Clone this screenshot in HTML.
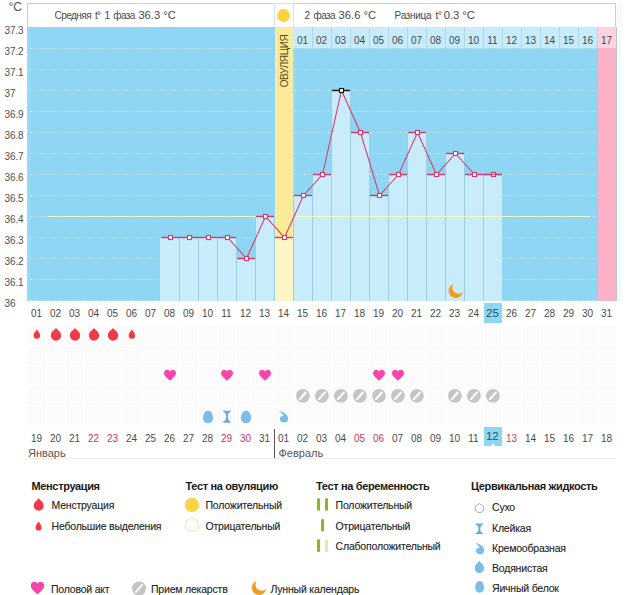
<!DOCTYPE html>
<html><head><meta charset="utf-8"><style>
html,body{margin:0;padding:0;background:#fff;}
body{width:626px;height:595px;position:relative;overflow:hidden;font-family:"Liberation Sans",sans-serif;}
.t{position:absolute;white-space:nowrap;line-height:1;}
</style></head><body>
<svg width="626" height="595" viewBox="0 0 626 595" style="position:absolute;left:0;top:0">
<rect x="27" y="325" width="589" height="101" fill="#fbfbfb"/>
<rect x="27" y="325" width="1" height="101" fill="#ffffff"/>
<rect x="46" y="325" width="1" height="101" fill="#ffffff"/>
<rect x="65" y="325" width="1" height="101" fill="#ffffff"/>
<rect x="84" y="325" width="1" height="101" fill="#ffffff"/>
<rect x="103" y="325" width="1" height="101" fill="#ffffff"/>
<rect x="122" y="325" width="1" height="101" fill="#ffffff"/>
<rect x="141" y="325" width="1" height="101" fill="#ffffff"/>
<rect x="160" y="325" width="1" height="101" fill="#ffffff"/>
<rect x="179" y="325" width="1" height="101" fill="#ffffff"/>
<rect x="198" y="325" width="1" height="101" fill="#ffffff"/>
<rect x="217" y="325" width="1" height="101" fill="#ffffff"/>
<rect x="236" y="325" width="1" height="101" fill="#ffffff"/>
<rect x="255" y="325" width="1" height="101" fill="#ffffff"/>
<rect x="274" y="325" width="1" height="101" fill="#ffffff"/>
<rect x="293" y="325" width="1" height="101" fill="#ffffff"/>
<rect x="312" y="325" width="1" height="101" fill="#ffffff"/>
<rect x="331" y="325" width="1" height="101" fill="#ffffff"/>
<rect x="350" y="325" width="1" height="101" fill="#ffffff"/>
<rect x="369" y="325" width="1" height="101" fill="#ffffff"/>
<rect x="388" y="325" width="1" height="101" fill="#ffffff"/>
<rect x="407" y="325" width="1" height="101" fill="#ffffff"/>
<rect x="426" y="325" width="1" height="101" fill="#ffffff"/>
<rect x="445" y="325" width="1" height="101" fill="#ffffff"/>
<rect x="464" y="325" width="1" height="101" fill="#ffffff"/>
<rect x="483" y="325" width="1" height="101" fill="#ffffff"/>
<rect x="502" y="325" width="1" height="101" fill="#ffffff"/>
<rect x="521" y="325" width="1" height="101" fill="#ffffff"/>
<rect x="540" y="325" width="1" height="101" fill="#ffffff"/>
<rect x="559" y="325" width="1" height="101" fill="#ffffff"/>
<rect x="578" y="325" width="1" height="101" fill="#ffffff"/>
<rect x="597" y="325" width="1" height="101" fill="#ffffff"/>
<rect x="616" y="325" width="1" height="101" fill="#ffffff"/>
<rect x="27" y="325" width="589" height="1" fill="#ffffff"/>
<rect x="27" y="345" width="589" height="1" fill="#ffffff"/>
<rect x="27" y="365" width="589" height="1" fill="#ffffff"/>
<rect x="27" y="385" width="589" height="1" fill="#ffffff"/>
<rect x="27" y="405" width="589" height="1" fill="#ffffff"/>
<rect x="27" y="425" width="589" height="1" fill="#ffffff"/>
<rect x="27.5" y="3.5" width="588" height="24" fill="#fff" stroke="#aad9e8" stroke-width="1"/>
<rect x="274.5" y="3.5" width="19" height="24" fill="none" stroke="#cfe6ee" stroke-width="1"/>
<circle cx="283.5" cy="15.5" r="6.5" fill="#fdd23f"/>
<rect x="27" y="27" width="571" height="274" fill="#8ed6f3"/>
<rect x="598" y="27" width="18" height="274" fill="#fbb2c8"/>
<rect x="27" y="27" width="1" height="274" fill="#a6d3e4"/>
<rect x="28" y="27" width="2" height="274" fill="#98dbf5"/>
<rect x="616" y="27" width="1" height="274" fill="#bcc6cf"/>
<rect x="617" y="3" width="5" height="298" fill="#f3fbfd"/>
<rect x="275" y="27" width="18" height="274" fill="#fbea98"/>
<rect x="275" y="27" width="1" height="274" fill="#f4efb8"/>
<rect x="292" y="27" width="1" height="274" fill="#f4efb0"/>
<rect x="293" y="48" width="2" height="253" fill="#98dbf5"/>
<rect x="293" y="27" width="19" height="21" fill="#c8ecfb"/>
<rect x="312" y="27" width="19" height="21" fill="#c8ecfb"/>
<rect x="331" y="27" width="19" height="21" fill="#c8ecfb"/>
<rect x="350" y="27" width="19" height="21" fill="#c8ecfb"/>
<rect x="369" y="27" width="19" height="21" fill="#c8ecfb"/>
<rect x="388" y="27" width="19" height="21" fill="#c8ecfb"/>
<rect x="407" y="27" width="19" height="21" fill="#c8ecfb"/>
<rect x="426" y="27" width="19" height="21" fill="#c8ecfb"/>
<rect x="445" y="27" width="19" height="21" fill="#c8ecfb"/>
<rect x="464" y="27" width="19" height="21" fill="#c8ecfb"/>
<rect x="483" y="27" width="19" height="21" fill="#c8ecfb"/>
<rect x="502" y="27" width="19" height="21" fill="#c8ecfb"/>
<rect x="521" y="27" width="19" height="21" fill="#c8ecfb"/>
<rect x="540" y="27" width="19" height="21" fill="#c8ecfb"/>
<rect x="559" y="27" width="19" height="21" fill="#c8ecfb"/>
<rect x="578" y="27" width="19" height="21" fill="#c8ecfb"/>
<rect x="597" y="27" width="19" height="21" fill="#fcd3df"/>
<rect x="312" y="27" width="1" height="21" fill="#b0d8e8"/>
<rect x="331" y="27" width="1" height="21" fill="#b0d8e8"/>
<rect x="350" y="27" width="1" height="21" fill="#b0d8e8"/>
<rect x="369" y="27" width="1" height="21" fill="#b0d8e8"/>
<rect x="388" y="27" width="1" height="21" fill="#b0d8e8"/>
<rect x="407" y="27" width="1" height="21" fill="#b0d8e8"/>
<rect x="426" y="27" width="1" height="21" fill="#b0d8e8"/>
<rect x="445" y="27" width="1" height="21" fill="#b0d8e8"/>
<rect x="464" y="27" width="1" height="21" fill="#b0d8e8"/>
<rect x="483" y="27" width="1" height="21" fill="#b0d8e8"/>
<rect x="502" y="27" width="1" height="21" fill="#b0d8e8"/>
<rect x="521" y="27" width="1" height="21" fill="#b0d8e8"/>
<rect x="540" y="27" width="1" height="21" fill="#b0d8e8"/>
<rect x="559" y="27" width="1" height="21" fill="#b0d8e8"/>
<rect x="578" y="27" width="1" height="21" fill="#b0d8e8"/>
<rect x="597" y="27" width="1" height="21" fill="#b0d8e8"/>
<line x1="31" y1="48.5" x2="274" y2="48.5" stroke="#ffffff" stroke-width="1" stroke-dasharray="1 2" opacity="0.75"/>
<line x1="295" y1="48.5" x2="597" y2="48.5" stroke="#ffffff" stroke-width="1" stroke-dasharray="1 2" opacity="0.75"/>
<line x1="31" y1="69.5" x2="274" y2="69.5" stroke="#ffffff" stroke-width="1" stroke-dasharray="1 2" opacity="0.75"/>
<line x1="295" y1="69.5" x2="597" y2="69.5" stroke="#ffffff" stroke-width="1" stroke-dasharray="1 2" opacity="0.75"/>
<line x1="31" y1="90.5" x2="274" y2="90.5" stroke="#ffffff" stroke-width="1" stroke-dasharray="1 2" opacity="0.75"/>
<line x1="295" y1="90.5" x2="597" y2="90.5" stroke="#ffffff" stroke-width="1" stroke-dasharray="1 2" opacity="0.75"/>
<line x1="31" y1="111.5" x2="274" y2="111.5" stroke="#ffffff" stroke-width="1" stroke-dasharray="1 2" opacity="0.75"/>
<line x1="295" y1="111.5" x2="597" y2="111.5" stroke="#ffffff" stroke-width="1" stroke-dasharray="1 2" opacity="0.75"/>
<line x1="31" y1="132.5" x2="274" y2="132.5" stroke="#ffffff" stroke-width="1" stroke-dasharray="1 2" opacity="0.75"/>
<line x1="295" y1="132.5" x2="597" y2="132.5" stroke="#ffffff" stroke-width="1" stroke-dasharray="1 2" opacity="0.75"/>
<line x1="31" y1="153.5" x2="274" y2="153.5" stroke="#ffffff" stroke-width="1" stroke-dasharray="1 2" opacity="0.75"/>
<line x1="295" y1="153.5" x2="597" y2="153.5" stroke="#ffffff" stroke-width="1" stroke-dasharray="1 2" opacity="0.75"/>
<line x1="31" y1="174.5" x2="274" y2="174.5" stroke="#ffffff" stroke-width="1" stroke-dasharray="1 2" opacity="0.75"/>
<line x1="295" y1="174.5" x2="597" y2="174.5" stroke="#ffffff" stroke-width="1" stroke-dasharray="1 2" opacity="0.75"/>
<line x1="31" y1="195.5" x2="274" y2="195.5" stroke="#ffffff" stroke-width="1" stroke-dasharray="1 2" opacity="0.75"/>
<line x1="295" y1="195.5" x2="597" y2="195.5" stroke="#ffffff" stroke-width="1" stroke-dasharray="1 2" opacity="0.75"/>
<line x1="31" y1="216.5" x2="274" y2="216.5" stroke="#ffffff" stroke-width="1" stroke-dasharray="1 2" opacity="0.75"/>
<line x1="295" y1="216.5" x2="597" y2="216.5" stroke="#ffffff" stroke-width="1" stroke-dasharray="1 2" opacity="0.75"/>
<line x1="31" y1="237.5" x2="274" y2="237.5" stroke="#ffffff" stroke-width="1" stroke-dasharray="1 2" opacity="0.75"/>
<line x1="295" y1="237.5" x2="597" y2="237.5" stroke="#ffffff" stroke-width="1" stroke-dasharray="1 2" opacity="0.75"/>
<line x1="31" y1="258.5" x2="274" y2="258.5" stroke="#ffffff" stroke-width="1" stroke-dasharray="1 2" opacity="0.75"/>
<line x1="295" y1="258.5" x2="597" y2="258.5" stroke="#ffffff" stroke-width="1" stroke-dasharray="1 2" opacity="0.75"/>
<line x1="31" y1="279.5" x2="274" y2="279.5" stroke="#ffffff" stroke-width="1" stroke-dasharray="1 2" opacity="0.75"/>
<line x1="295" y1="279.5" x2="597" y2="279.5" stroke="#ffffff" stroke-width="1" stroke-dasharray="1 2" opacity="0.75"/>
<line x1="31" y1="300.5" x2="274" y2="300.5" stroke="#ffffff" stroke-width="1" stroke-dasharray="1 2" opacity="0.75"/>
<line x1="295" y1="300.5" x2="597" y2="300.5" stroke="#ffffff" stroke-width="1" stroke-dasharray="1 2" opacity="0.75"/>
<rect x="160" y="237" width="19" height="64" fill="#c9ecfb"/>
<rect x="179" y="237" width="19" height="64" fill="#c9ecfb"/>
<rect x="198" y="237" width="19" height="64" fill="#c9ecfb"/>
<rect x="217" y="237" width="19" height="64" fill="#c9ecfb"/>
<rect x="236" y="258" width="19" height="43" fill="#c9ecfb"/>
<rect x="255" y="216" width="19" height="85" fill="#c9ecfb"/>
<rect x="275" y="237" width="18" height="64" fill="#fff6c8"/>
<rect x="293" y="195" width="19" height="106" fill="#c9ecfb"/>
<rect x="312" y="174" width="19" height="127" fill="#c9ecfb"/>
<rect x="331" y="90" width="19" height="211" fill="#c9ecfb"/>
<rect x="350" y="132" width="19" height="169" fill="#c9ecfb"/>
<rect x="369" y="195" width="19" height="106" fill="#c9ecfb"/>
<rect x="388" y="174" width="19" height="127" fill="#c9ecfb"/>
<rect x="407" y="132" width="19" height="169" fill="#c9ecfb"/>
<rect x="426" y="174" width="19" height="127" fill="#c9ecfb"/>
<rect x="445" y="153" width="19" height="148" fill="#c9ecfb"/>
<rect x="464" y="174" width="19" height="127" fill="#c9ecfb"/>
<rect x="483" y="174" width="19" height="127" fill="#c9ecfb"/>
<rect x="179" y="237" width="1" height="64" fill="#9dcde3"/>
<rect x="198" y="237" width="1" height="64" fill="#9dcde3"/>
<rect x="217" y="237" width="1" height="64" fill="#9dcde3"/>
<rect x="236" y="237" width="1" height="64" fill="#9dcde3"/>
<rect x="255" y="216" width="1" height="85" fill="#9dcde3"/>
<rect x="274" y="216" width="1" height="85" fill="#9dcde3"/>
<rect x="293" y="195" width="1" height="106" fill="#9dcde3"/>
<rect x="312" y="174" width="1" height="127" fill="#9dcde3"/>
<rect x="331" y="90" width="1" height="211" fill="#9dcde3"/>
<rect x="350" y="90" width="1" height="211" fill="#9dcde3"/>
<rect x="369" y="132" width="1" height="169" fill="#9dcde3"/>
<rect x="388" y="174" width="1" height="127" fill="#9dcde3"/>
<rect x="407" y="132" width="1" height="169" fill="#9dcde3"/>
<rect x="426" y="132" width="1" height="169" fill="#9dcde3"/>
<rect x="445" y="153" width="1" height="148" fill="#9dcde3"/>
<rect x="464" y="153" width="1" height="148" fill="#9dcde3"/>
<rect x="483" y="174" width="1" height="127" fill="#9dcde3"/>
<rect x="48" y="216" width="226" height="1" fill="#fffbb0" opacity="0.8"/>
<rect x="293" y="216" width="296" height="1" fill="#fffbb0" opacity="0.8"/>
<rect x="161" y="236.8" width="18" height="1.4" fill="#d43b6c"/>
<rect x="180" y="236.8" width="18" height="1.4" fill="#d43b6c"/>
<rect x="199" y="236.8" width="18" height="1.4" fill="#d43b6c"/>
<rect x="218" y="236.8" width="18" height="1.4" fill="#d43b6c"/>
<rect x="237" y="257.8" width="18" height="1.4" fill="#d43b6c"/>
<rect x="256" y="215.8" width="18" height="1.4" fill="#d43b6c"/>
<rect x="275" y="236.8" width="18" height="1.4" fill="#d43b6c"/>
<rect x="294" y="194.8" width="18" height="1.4" fill="#d43b6c"/>
<rect x="313" y="173.8" width="18" height="1.4" fill="#d43b6c"/>
<rect x="332" y="89.8" width="18" height="1.4" fill="#111"/>
<rect x="351" y="131.8" width="18" height="1.4" fill="#d43b6c"/>
<rect x="370" y="194.8" width="18" height="1.4" fill="#d43b6c"/>
<rect x="389" y="173.8" width="18" height="1.4" fill="#d43b6c"/>
<rect x="408" y="131.8" width="18" height="1.4" fill="#d43b6c"/>
<rect x="427" y="173.8" width="18" height="1.4" fill="#d43b6c"/>
<rect x="446" y="152.8" width="18" height="1.4" fill="#d43b6c"/>
<rect x="465" y="173.8" width="18" height="1.4" fill="#d43b6c"/>
<rect x="484" y="173.8" width="18" height="1.4" fill="#d43b6c"/>
<polyline points="170.5,237.5 189.5,237.5 208.5,237.5 227.5,237.5 246.5,258.5 265.5,216.5 284.5,237.5 303.5,195.5 322.5,174.5 341.5,90.5 360.5,132.5 379.5,195.5 398.5,174.5 417.5,132.5 436.5,174.5 455.5,153.5 474.5,174.5 493.5,174.5" fill="none" stroke="#d43b6c" stroke-width="1.05"/>
<rect x="168.5" y="235.5" width="4" height="4" fill="#fff" stroke="#d43b6c" stroke-width="1.1"/>
<rect x="187.5" y="235.5" width="4" height="4" fill="#fff" stroke="#d43b6c" stroke-width="1.1"/>
<rect x="206.5" y="235.5" width="4" height="4" fill="#fff" stroke="#d43b6c" stroke-width="1.1"/>
<rect x="225.5" y="235.5" width="4" height="4" fill="#fff" stroke="#d43b6c" stroke-width="1.1"/>
<rect x="244.5" y="256.5" width="4" height="4" fill="#fff" stroke="#d43b6c" stroke-width="1.1"/>
<rect x="263.5" y="214.5" width="4" height="4" fill="#fff" stroke="#d43b6c" stroke-width="1.1"/>
<rect x="282.5" y="235.5" width="4" height="4" fill="#fff" stroke="#d43b6c" stroke-width="1.1"/>
<rect x="301.5" y="193.5" width="4" height="4" fill="#fff" stroke="#d43b6c" stroke-width="1.1"/>
<rect x="320.5" y="172.5" width="4" height="4" fill="#fff" stroke="#d43b6c" stroke-width="1.1"/>
<rect x="339.5" y="88.5" width="4" height="4" fill="#fff" stroke="#111" stroke-width="1.1"/>
<rect x="358.5" y="130.5" width="4" height="4" fill="#fff" stroke="#d43b6c" stroke-width="1.1"/>
<rect x="377.5" y="193.5" width="4" height="4" fill="#fff" stroke="#d43b6c" stroke-width="1.1"/>
<rect x="396.5" y="172.5" width="4" height="4" fill="#fff" stroke="#d43b6c" stroke-width="1.1"/>
<rect x="415.5" y="130.5" width="4" height="4" fill="#fff" stroke="#d43b6c" stroke-width="1.1"/>
<rect x="434.5" y="172.5" width="4" height="4" fill="#fff" stroke="#d43b6c" stroke-width="1.1"/>
<rect x="453.5" y="151.5" width="4" height="4" fill="#fff" stroke="#d43b6c" stroke-width="1.1"/>
<rect x="472.5" y="172.5" width="4" height="4" fill="#fff" stroke="#d43b6c" stroke-width="1.1"/>
<rect x="491.5" y="172.5" width="4" height="4" fill="#fff" stroke="#d43b6c" stroke-width="1.1"/>
<rect x="484" y="173.8" width="18" height="1.4" fill="#d43b6c" opacity="0.8"/>
<path d="M36.9,329.15 C37.7125,331.284 40.15,332.51250000000005 40.15,335.6 A3.25,3.25 0 0 1 33.65,335.6 C33.65,332.51250000000005 36.0875,331.284 36.9,329.15Z" fill="#f03a48"/>
<path d="M56,327.7 C57.275,330.56 61.1,330.75499999999994 61.1,335.59999999999997 A5.1,5.1 0 0 1 50.9,335.59999999999997 C50.9,330.75499999999994 54.725,330.56 56,327.7Z" fill="#f03a48"/>
<path d="M75,327.7 C76.275,330.56 80.1,330.75499999999994 80.1,335.59999999999997 A5.1,5.1 0 0 1 69.9,335.59999999999997 C69.9,330.75499999999994 73.725,330.56 75,327.7Z" fill="#f03a48"/>
<path d="M94,327.7 C95.275,330.56 99.1,330.75499999999994 99.1,335.59999999999997 A5.1,5.1 0 0 1 88.9,335.59999999999997 C88.9,330.75499999999994 92.725,330.56 94,327.7Z" fill="#f03a48"/>
<path d="M113,327.7 C114.275,330.56 118.1,330.75499999999994 118.1,335.59999999999997 A5.1,5.1 0 0 1 107.9,335.59999999999997 C107.9,330.75499999999994 111.725,330.56 113,327.7Z" fill="#f03a48"/>
<path d="M131.9,329.15 C132.7125,331.284 135.15,332.51250000000005 135.15,335.6 A3.25,3.25 0 0 1 128.65,335.6 C128.65,332.51250000000005 131.0875,331.284 131.9,329.15Z" fill="#f03a48"/>
<path transform="translate(164.0,369.7) scale(1.0)" d="M6,11 C4,9.2 0,6.6 0,3.4 C0,1.3 1.5,0 3.2,0 C4.5,0 5.5,0.8 6,1.8 C6.5,0.8 7.5,0 8.8,0 C10.5,0 12,1.3 12,3.4 C12,6.6 8,9.2 6,11 Z" fill="#f845ab"/>
<path transform="translate(221.0,369.7) scale(1.0)" d="M6,11 C4,9.2 0,6.6 0,3.4 C0,1.3 1.5,0 3.2,0 C4.5,0 5.5,0.8 6,1.8 C6.5,0.8 7.5,0 8.8,0 C10.5,0 12,1.3 12,3.4 C12,6.6 8,9.2 6,11 Z" fill="#f845ab"/>
<path transform="translate(259.0,369.7) scale(1.0)" d="M6,11 C4,9.2 0,6.6 0,3.4 C0,1.3 1.5,0 3.2,0 C4.5,0 5.5,0.8 6,1.8 C6.5,0.8 7.5,0 8.8,0 C10.5,0 12,1.3 12,3.4 C12,6.6 8,9.2 6,11 Z" fill="#f845ab"/>
<path transform="translate(373.0,369.7) scale(1.0)" d="M6,11 C4,9.2 0,6.6 0,3.4 C0,1.3 1.5,0 3.2,0 C4.5,0 5.5,0.8 6,1.8 C6.5,0.8 7.5,0 8.8,0 C10.5,0 12,1.3 12,3.4 C12,6.6 8,9.2 6,11 Z" fill="#f845ab"/>
<path transform="translate(392.0,369.7) scale(1.0)" d="M6,11 C4,9.2 0,6.6 0,3.4 C0,1.3 1.5,0 3.2,0 C4.5,0 5.5,0.8 6,1.8 C6.5,0.8 7.5,0 8.8,0 C10.5,0 12,1.3 12,3.4 C12,6.6 8,9.2 6,11 Z" fill="#f845ab"/>
<circle cx="302.9" cy="395.8" r="6.9" fill="#c5c5c5"/><line x1="300.00199999999995" y1="399.112" x2="305.798" y2="392.488" stroke="#fff" stroke-width="2.1" stroke-linecap="round"/>
<circle cx="321.9" cy="395.8" r="6.9" fill="#c5c5c5"/><line x1="319.00199999999995" y1="399.112" x2="324.798" y2="392.488" stroke="#fff" stroke-width="2.1" stroke-linecap="round"/>
<circle cx="340.9" cy="395.8" r="6.9" fill="#c5c5c5"/><line x1="338.00199999999995" y1="399.112" x2="343.798" y2="392.488" stroke="#fff" stroke-width="2.1" stroke-linecap="round"/>
<circle cx="359.9" cy="395.8" r="6.9" fill="#c5c5c5"/><line x1="357.00199999999995" y1="399.112" x2="362.798" y2="392.488" stroke="#fff" stroke-width="2.1" stroke-linecap="round"/>
<circle cx="378.9" cy="395.8" r="6.9" fill="#c5c5c5"/><line x1="376.00199999999995" y1="399.112" x2="381.798" y2="392.488" stroke="#fff" stroke-width="2.1" stroke-linecap="round"/>
<circle cx="397.9" cy="395.8" r="6.9" fill="#c5c5c5"/><line x1="395.00199999999995" y1="399.112" x2="400.798" y2="392.488" stroke="#fff" stroke-width="2.1" stroke-linecap="round"/>
<circle cx="416.9" cy="395.8" r="6.9" fill="#c5c5c5"/><line x1="414.00199999999995" y1="399.112" x2="419.798" y2="392.488" stroke="#fff" stroke-width="2.1" stroke-linecap="round"/>
<circle cx="454.9" cy="395.8" r="6.9" fill="#c5c5c5"/><line x1="452.00199999999995" y1="399.112" x2="457.798" y2="392.488" stroke="#fff" stroke-width="2.1" stroke-linecap="round"/>
<circle cx="473.9" cy="395.8" r="6.9" fill="#c5c5c5"/><line x1="471.00199999999995" y1="399.112" x2="476.798" y2="392.488" stroke="#fff" stroke-width="2.1" stroke-linecap="round"/>
<circle cx="492.9" cy="395.8" r="6.9" fill="#c5c5c5"/><line x1="490.00199999999995" y1="399.112" x2="495.798" y2="392.488" stroke="#fff" stroke-width="2.1" stroke-linecap="round"/>
<path d="M208,410.85 C211.2,410.85 213.0,414.294 213.0,417.984 C213.0,421.182 210.8,423.15 208,423.15 C205.2,423.15 203.0,421.182 203.0,417.984 C203.0,414.294 204.8,410.85 208,410.85 Z" fill="#79bde8"/>
<path d="M223.15,410.85 H230.85 V411.75 C229.25,412.15000000000003 227.8,414.40000000000003 227.8,416.8 C227.8,419.2 229.25,421.45 230.85,421.85 V422.75 H223.15 V421.85 C224.75,421.45 226.2,419.2 226.2,416.8 C226.2,414.40000000000003 224.75,412.15000000000003 223.15,411.75 Z" fill="#6eaad9"/>
<path d="M246,410.85 C249.2,410.85 251.0,414.294 251.0,417.984 C251.0,421.182 248.8,423.15 246,423.15 C243.2,423.15 241.0,421.182 241.0,417.984 C241.0,414.294 242.8,410.85 246,410.85 Z" fill="#79bde8"/>
<path d="M279.20,411.00 C282.60,411.60 288.10,414.60 288.10,418.40 A4.10,4.10 0 0 1 279.90,418.40 C279.90,416.80 281.70,415.70 283.50,415.90 C282.40,414.10 280.40,411.90 279.20,411.00 Z" fill="#79bde8"/>
<path d="M462.91,291.94 A7.2,7.2 0 1 1 453.44,284.00 A6.2,6.2 0 0 0 462.91,291.94 Z" fill="#f59a1a"/>
<rect x="274" y="429" width="1" height="30" fill="#555"/>
<rect x="27" y="458" width="589" height="1" fill="#ececec"/>
<path d="M38.7,498.0 C39.925000000000004,500.816 43.6,501.245 43.6,505.9 A4.9,4.9 0 0 1 33.800000000000004,505.9 C33.800000000000004,501.245 37.475,500.816 38.7,498.0Z" fill="#f03a48"/>
<path d="M38.6,521.45 C39.375,523.452 41.7,524.5049999999999 41.7,527.4499999999999 A3.1,3.1 0 0 1 35.5,527.4499999999999 C35.5,524.5049999999999 37.825,523.452 38.6,521.45Z" fill="#f03a48"/>
<circle cx="192" cy="505" r="7.2" fill="#fcd344"/>
<circle cx="192" cy="525" r="6.7" fill="#fff" stroke="#f3ebc4" stroke-width="1.3"/>
<rect x="317" y="498.3" width="3.1" height="12.4" rx="1.2" fill="#8ab62a"/>
<rect x="325" y="498.3" width="3.1" height="12.4" rx="1.2" fill="#8ab62a"/>
<rect x="321" y="519" width="3.1" height="12.4" rx="1.2" fill="#8ab62a"/>
<rect x="317" y="539.3" width="3.1" height="12.6" rx="1.2" fill="#8ab62a"/>
<rect x="325" y="539.3" width="3.1" height="12.6" rx="1.2" fill="#dfe8bd"/>
<path d="M479.5,503.4 C480.575,505.424 483.8,504.21500000000003 483.8,508.3 A4.3,4.3 0 0 1 475.2,508.3 C475.2,504.21500000000003 478.425,505.424 479.5,503.4Z" fill="#fff" stroke="#8aa6ba" stroke-width="0.9"/>
<path d="M475.5,523.5 H483.29999999999995 V524.4 C481.69999999999993,524.8 480.2,526.4 480.2,528.8 C480.2,531.1999999999999 481.69999999999993,532.8 483.29999999999995,533.1999999999999 V534.0999999999999 H475.5 V533.1999999999999 C477.1,532.8 478.59999999999997,531.1999999999999 478.59999999999997,528.8 C478.59999999999997,526.4 477.1,524.8 475.5,524.4 Z" fill="#6eaad9"/>
<path d="M475.30,542.80 C478.70,543.40 484.20,546.40 484.20,550.20 A4.10,4.10 0 0 1 476.00,550.20 C476.00,548.60 477.80,547.50 479.60,547.70 C478.50,545.90 476.50,543.70 475.30,542.80 Z" fill="#79bde8"/>
<path d="M479.4,560.55 C480.575,563.3439999999999 484.09999999999997,564.0849999999999 484.09999999999997,568.55 A4.7,4.7 0 0 1 474.7,568.55 C474.7,564.0849999999999 478.22499999999997,563.3439999999999 479.4,560.55Z" fill="#79bde8"/>
<path d="M479.6,581.0 C482.416,581.0 484.0,584.304 484.0,587.8439999999999 C484.0,590.912 482.064,592.8 479.6,592.8 C477.136,592.8 475.20000000000005,590.912 475.20000000000005,587.8439999999999 C475.20000000000005,584.304 476.78400000000005,581.0 479.6,581.0 Z" fill="#79bde8"/>
<path transform="translate(30.75,581.8125) scale(1.125)" d="M6,11 C4,9.2 0,6.6 0,3.4 C0,1.3 1.5,0 3.2,0 C4.5,0 5.5,0.8 6,1.8 C6.5,0.8 7.5,0 8.8,0 C10.5,0 12,1.3 12,3.4 C12,6.6 8,9.2 6,11 Z" fill="#f845ab"/>
<circle cx="139" cy="588.5" r="7" fill="#c4c4c4"/><line x1="136.06" y1="591.86" x2="141.94" y2="585.14" stroke="#fff" stroke-width="2.1" stroke-linecap="round"/>
<path d="M266.11,588.94 A7.2,7.2 0 1 1 256.64,581.00 A6.2,6.2 0 0 0 266.11,588.94 Z" fill="#f59a1a"/>
</svg>
<div style="position:absolute;left:484px;top:427px;width:18px;height:19px;background:#8fd6f3"></div><svg style="position:absolute;left:0;top:0" width="626" height="595"><path d="M491,446 L493,443 L495,446 Z" fill="#fff"/></svg><div style="position:absolute;left:484px;top:303px;width:18px;height:20px;background:#8fd6f3"></div><div class="t" style="left:4.5px;top:26px;font-size:10px;color:#505050;font-weight:normal;letter-spacing:-0.1px">37.3</div><div class="t" style="left:4.5px;top:47px;font-size:10px;color:#505050;font-weight:normal;letter-spacing:-0.1px">37.2</div><div class="t" style="left:4.5px;top:68px;font-size:10px;color:#505050;font-weight:normal;letter-spacing:-0.1px">37.1</div><div class="t" style="left:4.5px;top:89px;font-size:10px;color:#505050;font-weight:normal;letter-spacing:-0.1px">37</div><div class="t" style="left:4.5px;top:110px;font-size:10px;color:#505050;font-weight:normal;letter-spacing:-0.1px">36.9</div><div class="t" style="left:4.5px;top:131px;font-size:10px;color:#505050;font-weight:normal;letter-spacing:-0.1px">36.8</div><div class="t" style="left:4.5px;top:152px;font-size:10px;color:#505050;font-weight:normal;letter-spacing:-0.1px">36.7</div><div class="t" style="left:4.5px;top:173px;font-size:10px;color:#505050;font-weight:normal;letter-spacing:-0.1px">36.6</div><div class="t" style="left:4.5px;top:194px;font-size:10px;color:#505050;font-weight:normal;letter-spacing:-0.1px">36.5</div><div class="t" style="left:4.5px;top:215px;font-size:10px;color:#505050;font-weight:normal;letter-spacing:-0.1px">36.4</div><div class="t" style="left:4.5px;top:236px;font-size:10px;color:#505050;font-weight:normal;letter-spacing:-0.1px">36.3</div><div class="t" style="left:4.5px;top:257px;font-size:10px;color:#505050;font-weight:normal;letter-spacing:-0.1px">36.2</div><div class="t" style="left:4.5px;top:278px;font-size:10px;color:#505050;font-weight:normal;letter-spacing:-0.1px">36.1</div><div class="t" style="left:4.5px;top:299px;font-size:10px;color:#505050;font-weight:normal;letter-spacing:-0.1px">36</div><div class="t" style="left:8.5px;top:1px;font-size:12px;color:#505050;font-weight:normal;">°C</div><div class="t" style="left:54.6px;top:11px;font-size:10px;color:#4a4a4a;letter-spacing:-0.55px;word-spacing:1.6px">Средняя t° 1 фаза</div><div class="t" style="left:138.4px;top:10.2px;font-size:11.2px;color:#4a4a4a;letter-spacing:0px">36.3 °C</div><div class="t" style="left:304.6px;top:11px;font-size:10px;color:#4a4a4a;letter-spacing:-0.6px;word-spacing:1.8px">2 фаза</div><div class="t" style="left:338.6px;top:10.2px;font-size:11.2px;color:#4a4a4a;letter-spacing:0px">36.6 °C</div><div class="t" style="left:394.6px;top:11px;font-size:10px;color:#4a4a4a;letter-spacing:-0.3px;word-spacing:1.8px">Разница t°</div><div class="t" style="left:443.7px;top:10.2px;font-size:11.2px;color:#4a4a4a;letter-spacing:0px">0.3 °C</div><div class="t" style="left:287.5px;width:30px;text-align:center;top:35.5px;font-size:10px;color:#3d4a52;">01</div><div class="t" style="left:306.5px;width:30px;text-align:center;top:35.5px;font-size:10px;color:#3d4a52;">02</div><div class="t" style="left:325.5px;width:30px;text-align:center;top:35.5px;font-size:10px;color:#3d4a52;">03</div><div class="t" style="left:344.5px;width:30px;text-align:center;top:35.5px;font-size:10px;color:#3d4a52;">04</div><div class="t" style="left:363.5px;width:30px;text-align:center;top:35.5px;font-size:10px;color:#3d4a52;">05</div><div class="t" style="left:382.5px;width:30px;text-align:center;top:35.5px;font-size:10px;color:#3d4a52;">06</div><div class="t" style="left:401.5px;width:30px;text-align:center;top:35.5px;font-size:10px;color:#3d4a52;">07</div><div class="t" style="left:420.5px;width:30px;text-align:center;top:35.5px;font-size:10px;color:#3d4a52;">08</div><div class="t" style="left:439.5px;width:30px;text-align:center;top:35.5px;font-size:10px;color:#3d4a52;">09</div><div class="t" style="left:458.5px;width:30px;text-align:center;top:35.5px;font-size:10px;color:#3d4a52;">10</div><div class="t" style="left:477.5px;width:30px;text-align:center;top:35.5px;font-size:10px;color:#3d4a52;">11</div><div class="t" style="left:496.5px;width:30px;text-align:center;top:35.5px;font-size:10px;color:#3d4a52;">12</div><div class="t" style="left:515.5px;width:30px;text-align:center;top:35.5px;font-size:10px;color:#3d4a52;">13</div><div class="t" style="left:534.5px;width:30px;text-align:center;top:35.5px;font-size:10px;color:#3d4a52;">14</div><div class="t" style="left:553.5px;width:30px;text-align:center;top:35.5px;font-size:10px;color:#3d4a52;">15</div><div class="t" style="left:572.5px;width:30px;text-align:center;top:35.5px;font-size:10px;color:#3d4a52;">16</div><div class="t" style="left:591.5px;width:30px;text-align:center;top:35.5px;font-size:10px;color:#3d4a52;">17</div><div class="t" style="left:258px;top:55.5px;width:54px;text-align:center;font-size:10px;color:#5a4c1c;letter-spacing:-0.4px;transform:rotate(-90deg)">ОВУЛЯЦИЯ</div><div class="t" style="left:21.5px;width:30px;text-align:center;top:309px;font-size:10px;color:#4a4a4a;">01</div><div class="t" style="left:40.5px;width:30px;text-align:center;top:309px;font-size:10px;color:#4a4a4a;">02</div><div class="t" style="left:59.5px;width:30px;text-align:center;top:309px;font-size:10px;color:#4a4a4a;">03</div><div class="t" style="left:78.5px;width:30px;text-align:center;top:309px;font-size:10px;color:#4a4a4a;">04</div><div class="t" style="left:97.5px;width:30px;text-align:center;top:309px;font-size:10px;color:#4a4a4a;">05</div><div class="t" style="left:116.5px;width:30px;text-align:center;top:309px;font-size:10px;color:#4a4a4a;">06</div><div class="t" style="left:135.5px;width:30px;text-align:center;top:309px;font-size:10px;color:#4a4a4a;">07</div><div class="t" style="left:154.5px;width:30px;text-align:center;top:309px;font-size:10px;color:#4a4a4a;">08</div><div class="t" style="left:173.5px;width:30px;text-align:center;top:309px;font-size:10px;color:#4a4a4a;">09</div><div class="t" style="left:192.5px;width:30px;text-align:center;top:309px;font-size:10px;color:#4a4a4a;">10</div><div class="t" style="left:211.5px;width:30px;text-align:center;top:309px;font-size:10px;color:#4a4a4a;">11</div><div class="t" style="left:230.5px;width:30px;text-align:center;top:309px;font-size:10px;color:#4a4a4a;">12</div><div class="t" style="left:249.5px;width:30px;text-align:center;top:309px;font-size:10px;color:#4a4a4a;">13</div><div class="t" style="left:268.5px;width:30px;text-align:center;top:309px;font-size:10px;color:#4a4a4a;">14</div><div class="t" style="left:287.5px;width:30px;text-align:center;top:309px;font-size:10px;color:#4a4a4a;">15</div><div class="t" style="left:306.5px;width:30px;text-align:center;top:309px;font-size:10px;color:#4a4a4a;">16</div><div class="t" style="left:325.5px;width:30px;text-align:center;top:309px;font-size:10px;color:#4a4a4a;">17</div><div class="t" style="left:344.5px;width:30px;text-align:center;top:309px;font-size:10px;color:#4a4a4a;">18</div><div class="t" style="left:363.5px;width:30px;text-align:center;top:309px;font-size:10px;color:#4a4a4a;">19</div><div class="t" style="left:382.5px;width:30px;text-align:center;top:309px;font-size:10px;color:#4a4a4a;">20</div><div class="t" style="left:401.5px;width:30px;text-align:center;top:309px;font-size:10px;color:#4a4a4a;">21</div><div class="t" style="left:420.5px;width:30px;text-align:center;top:309px;font-size:10px;color:#4a4a4a;">22</div><div class="t" style="left:439.5px;width:30px;text-align:center;top:309px;font-size:10px;color:#4a4a4a;">23</div><div class="t" style="left:458.5px;width:30px;text-align:center;top:309px;font-size:10px;color:#4a4a4a;">24</div><div class="t" style="left:477.5px;width:30px;text-align:center;top:308px;font-size:11.5px;color:#1f5566;">25</div><div class="t" style="left:496.5px;width:30px;text-align:center;top:309px;font-size:10px;color:#4a4a4a;">26</div><div class="t" style="left:515.5px;width:30px;text-align:center;top:309px;font-size:10px;color:#4a4a4a;">27</div><div class="t" style="left:534.5px;width:30px;text-align:center;top:309px;font-size:10px;color:#4a4a4a;">28</div><div class="t" style="left:553.5px;width:30px;text-align:center;top:309px;font-size:10px;color:#4a4a4a;">29</div><div class="t" style="left:572.5px;width:30px;text-align:center;top:309px;font-size:10px;color:#4a4a4a;">30</div><div class="t" style="left:591.5px;width:30px;text-align:center;top:309px;font-size:10px;color:#4a4a4a;">31</div><div class="t" style="left:21.5px;width:30px;text-align:center;top:434px;font-size:10px;color:#4a4a4a;">19</div><div class="t" style="left:40.5px;width:30px;text-align:center;top:434px;font-size:10px;color:#4a4a4a;">20</div><div class="t" style="left:59.5px;width:30px;text-align:center;top:434px;font-size:10px;color:#4a4a4a;">21</div><div class="t" style="left:78.5px;width:30px;text-align:center;top:434px;font-size:10px;color:#d2335f;">22</div><div class="t" style="left:97.5px;width:30px;text-align:center;top:434px;font-size:10px;color:#d2335f;">23</div><div class="t" style="left:116.5px;width:30px;text-align:center;top:434px;font-size:10px;color:#4a4a4a;">24</div><div class="t" style="left:135.5px;width:30px;text-align:center;top:434px;font-size:10px;color:#4a4a4a;">25</div><div class="t" style="left:154.5px;width:30px;text-align:center;top:434px;font-size:10px;color:#4a4a4a;">26</div><div class="t" style="left:173.5px;width:30px;text-align:center;top:434px;font-size:10px;color:#4a4a4a;">27</div><div class="t" style="left:192.5px;width:30px;text-align:center;top:434px;font-size:10px;color:#4a4a4a;">28</div><div class="t" style="left:211.5px;width:30px;text-align:center;top:434px;font-size:10px;color:#d2335f;">29</div><div class="t" style="left:230.5px;width:30px;text-align:center;top:434px;font-size:10px;color:#d2335f;">30</div><div class="t" style="left:249.5px;width:30px;text-align:center;top:434px;font-size:10px;color:#4a4a4a;">31</div><div class="t" style="left:268.5px;width:30px;text-align:center;top:434px;font-size:10px;color:#4a4a4a;">01</div><div class="t" style="left:287.5px;width:30px;text-align:center;top:434px;font-size:10px;color:#4a4a4a;">02</div><div class="t" style="left:306.5px;width:30px;text-align:center;top:434px;font-size:10px;color:#4a4a4a;">03</div><div class="t" style="left:325.5px;width:30px;text-align:center;top:434px;font-size:10px;color:#4a4a4a;">04</div><div class="t" style="left:344.5px;width:30px;text-align:center;top:434px;font-size:10px;color:#d2335f;">05</div><div class="t" style="left:363.5px;width:30px;text-align:center;top:434px;font-size:10px;color:#d2335f;">06</div><div class="t" style="left:382.5px;width:30px;text-align:center;top:434px;font-size:10px;color:#4a4a4a;">07</div><div class="t" style="left:401.5px;width:30px;text-align:center;top:434px;font-size:10px;color:#4a4a4a;">08</div><div class="t" style="left:420.5px;width:30px;text-align:center;top:434px;font-size:10px;color:#4a4a4a;">09</div><div class="t" style="left:439.5px;width:30px;text-align:center;top:434px;font-size:10px;color:#4a4a4a;">10</div><div class="t" style="left:458.5px;width:30px;text-align:center;top:434px;font-size:10px;color:#4a4a4a;">11</div><div class="t" style="left:477.3px;width:30px;text-align:center;top:430.6px;font-size:11.5px;color:#1f5566;font-family:"Liberation Serif",serif">12</div><div class="t" style="left:496.5px;width:30px;text-align:center;top:434px;font-size:10px;color:#d2335f;">13</div><div class="t" style="left:515.5px;width:30px;text-align:center;top:434px;font-size:10px;color:#4a4a4a;">14</div><div class="t" style="left:534.5px;width:30px;text-align:center;top:434px;font-size:10px;color:#4a4a4a;">15</div><div class="t" style="left:553.5px;width:30px;text-align:center;top:434px;font-size:10px;color:#4a4a4a;">16</div><div class="t" style="left:572.5px;width:30px;text-align:center;top:434px;font-size:10px;color:#4a4a4a;">17</div><div class="t" style="left:591.5px;width:30px;text-align:center;top:434px;font-size:10px;color:#4a4a4a;">18</div><div class="t" style="left:28px;top:447.5px;font-size:11px;color:#555;font-weight:normal;">Январь</div><div class="t" style="left:278.5px;top:447.5px;font-size:11px;color:#555;font-weight:normal;">Февраль</div><div class="t" style="left:31.5px;top:480.89px;font-size:11px;color:#1a1a1a;font-weight:bold;letter-spacing:-0.35px;">Менструация</div><div class="t" style="left:51.5px;top:500.21px;font-size:10.5px;color:#222;font-weight:normal;letter-spacing:-0.2px;-webkit-text-stroke:0.1px #222;">Менструация</div><div class="t" style="left:51.5px;top:520.71px;font-size:10.5px;color:#222;font-weight:normal;letter-spacing:-0.2px;-webkit-text-stroke:0.1px #222;">Небольшие выделения</div><div class="t" style="left:185.5px;top:480.79px;font-size:11px;color:#1a1a1a;font-weight:bold;letter-spacing:-0.35px;">Тест на овуляцию</div><div class="t" style="left:205.5px;top:500.01px;font-size:10.5px;color:#222;font-weight:normal;letter-spacing:-0.2px;-webkit-text-stroke:0.1px #222;">Положительный</div><div class="t" style="left:205.5px;top:521.11px;font-size:10.5px;color:#222;font-weight:normal;letter-spacing:-0.2px;-webkit-text-stroke:0.1px #222;">Отрицательный</div><div class="t" style="left:316px;top:480.79px;font-size:11px;color:#1a1a1a;font-weight:bold;letter-spacing:-0.35px;">Тест на беременность</div><div class="t" style="left:335.6px;top:500.11px;font-size:10.5px;color:#222;font-weight:normal;letter-spacing:-0.2px;-webkit-text-stroke:0.1px #222;">Положительный</div><div class="t" style="left:335.6px;top:521.11px;font-size:10.5px;color:#222;font-weight:normal;letter-spacing:-0.2px;-webkit-text-stroke:0.1px #222;">Отрицательный</div><div class="t" style="left:335.6px;top:541.11px;font-size:10.5px;color:#222;font-weight:normal;letter-spacing:-0.2px;-webkit-text-stroke:0.1px #222;">Слабоположительный</div><div class="t" style="left:471px;top:480.99px;font-size:11px;color:#1a1a1a;font-weight:bold;letter-spacing:-0.35px;">Цервикальная жидкость</div><div class="t" style="left:492px;top:502.31px;font-size:10.5px;color:#222;font-weight:normal;letter-spacing:-0.2px;-webkit-text-stroke:0.1px #222;">Сухо</div><div class="t" style="left:492px;top:523.31px;font-size:10.5px;color:#222;font-weight:normal;letter-spacing:-0.2px;-webkit-text-stroke:0.1px #222;">Клейкая</div><div class="t" style="left:492px;top:542.91px;font-size:10.5px;color:#222;font-weight:normal;letter-spacing:-0.2px;-webkit-text-stroke:0.1px #222;">Кремообразная</div><div class="t" style="left:492px;top:562.61px;font-size:10.5px;color:#222;font-weight:normal;letter-spacing:-0.2px;-webkit-text-stroke:0.1px #222;">Водянистая</div><div class="t" style="left:492px;top:582.71px;font-size:10.5px;color:#222;font-weight:normal;letter-spacing:-0.2px;-webkit-text-stroke:0.1px #222;">Яичный белок</div><div class="t" style="left:51px;top:583.51px;font-size:10.5px;color:#222;font-weight:normal;letter-spacing:-0.2px;-webkit-text-stroke:0.1px #222;">Половой акт</div><div class="t" style="left:151px;top:583.51px;font-size:10.5px;color:#222;font-weight:normal;letter-spacing:-0.2px;-webkit-text-stroke:0.1px #222;">Прием лекарств</div><div class="t" style="left:270.5px;top:583.51px;font-size:10.5px;color:#222;font-weight:normal;letter-spacing:-0.2px;-webkit-text-stroke:0.1px #222;">Лунный календарь</div>
</body></html>
